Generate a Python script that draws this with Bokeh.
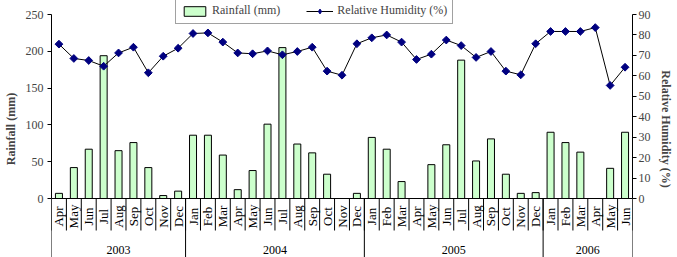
import numpy as np
from bokeh.plotting import figure
from bokeh.models import Range1d, LinearAxis, FixedTicker, Legend, LegendItem, ColumnDataSource
from bokeh.core.properties import value
from bokeh.embed import file_html
from bokeh.resources import INLINE

years = ["2003", "2004", "2005", "2006"]
months_2003 = ["Apr", "May", "Jun", "Jul", "Aug", "Sep", "Oct", "Nov", "Dec"]
months_2004 = ["Jan", "Feb", "Mar", "Apr", "May", "Jun", "Jul", "Aug", "Sep", "Oct", "Nov", "Dec"]
months_2005 = ["Jan", "Feb", "Mar", "Apr", "May", "Jun", "Jul", "Aug", "Sep", "Oct", "Nov", "Dec"]
months_2006 = ["Jan", "Feb", "Mar", "Apr", "May", "Jun"]

rainfall_mm = [7, 42, 67, 194, 65, 76, 42, 4, 10,
               86, 86, 59, 12, 38, 101, 205, 74, 62, 33, 0, 7,
               83, 67, 23, 0, 46, 73, 188, 51, 81, 33, 7, 8,
               90, 76, 63, 0, 41, 90]
humidity_pct = [75.5, 68.5, 67.5, 64.7, 71.2, 74.0, 61.5, 69.6, 73.5,
                80.7, 81.0, 76.5, 71.2, 70.8, 72.2, 70.3, 71.9, 74.0, 62.3, 60.3, 75.7,
                78.6, 80.0, 76.5, 68.0, 70.6, 77.5, 74.8, 69.0, 71.9, 62.3, 60.5, 75.7,
                81.7, 81.7, 81.7, 83.6, 55.3, 64.2]

rain_ticks = [0, 50, 100, 150, 200, 250]
rh_ticks = [0, 10, 20, 30, 40, 50, 60, 70, 80, 90]

groups = [months_2003, months_2004, months_2005, months_2006]
months = [m for g in groups for m in g]
n = len(months)
xc = [i + 0.5 for i in range(n)]
counts = [len(g) for g in groups]
year_bounds = [0] + [int(v) for v in np.cumsum(counts)]
year_centers = [(year_bounds[i] + year_bounds[i + 1]) / 2 for i in range(len(years))]

FONT = "Liberation Serif"

# layout: plot area 0..250 occupies 184 px, 14 px above it, 59 px below for category labels
H_TOP, H_PLOT, H_BOT = 14, 184, 59
u = rain_ticks[-1] / H_PLOT          # data units per pixel on left axis
ur = rh_ticks[-1] / H_PLOT           # data units per pixel on right axis

src = ColumnDataSource(dict(x=xc, rain=rainfall_mm, rh=humidity_pct))

p = figure(width=677, height=257, x_range=Range1d(0, n),
           y_range=Range1d(-H_BOT * u, rain_ticks[-1] + H_TOP * u),
           x_axis_type=None, output_backend="svg", toolbar_location=None,
           min_border_left=46, min_border_right=45, min_border_top=0, min_border_bottom=0)
p.outline_line_color = None
p.grid.visible = False
p.extra_y_ranges = {"rh": Range1d(-H_BOT * ur, rh_ticks[-1] + H_TOP * ur)}

bars = p.vbar(x="x", top="rain", width=0.47, source=src,
              fill_color="#ccffcc", line_color="black", line_width=1)
ln = p.line(x="x", y="rh", source=src, y_range_name="rh", line_color="black", line_width=1)
pts = p.scatter(x="x", y="rh", source=src, y_range_name="rh", marker="square",
                angle=np.pi / 4, size=5.5, fill_color="#000080", line_color="#000080")
# legend-only diamond marker (no data drawn)
leg_marker = p.scatter(x=[np.nan], y=[np.nan], y_range_name="rh", marker="diamond",
                       size=9, fill_color="#000080", line_color="#000080")

def style_axis(ax, label, ticks, standoff):
    ax.ticker = FixedTicker(ticks=ticks)
    ax.bounds = (ticks[0], ticks[-1])
    ax.axis_label = label
    ax.axis_label_text_font = FONT
    ax.axis_label_text_font_style = "bold"
    ax.axis_label_text_font_size = "12px"
    ax.axis_label_standoff = 5
    ax.major_label_text_font = FONT
    ax.major_label_text_font_size = "12px"
    ax.major_label_standoff = standoff
    ax.major_tick_out = 4
    ax.major_tick_in = 0
    ax.minor_tick_line_color = None
    ax.axis_line_color = "black"
    ax.major_tick_line_color = "black"

style_axis(p.yaxis[0], "Rainfall (mm)", rain_ticks, 4)
right = LinearAxis(y_range_name="rh")
style_axis(right, "Relative Humidity (%)", rh_ticks, 2)
p.add_layout(right, "right")

# category axis: month separators, year separators, labels
bounds = list(range(n + 1))
p.segment(x0=bounds, y0=[0] * len(bounds), x1=bounds, y1=[-32 * u] * len(bounds),
          line_color="black", line_width=1)
p.segment(x0=year_bounds, y0=[0] * len(year_bounds), x1=year_bounds,
          y1=[-H_BOT * u] * len(year_bounds), line_color="black", line_width=1)
p.segment(x0=[0], y0=[0], x1=[n], y1=[0], line_color="black", line_width=1)
p.text(x=xc, y=[-18 * u] * n, text=months, angle=np.pi / 2, text_align="center",
       text_baseline="middle", text_font=value(FONT), text_font_size="13px", text_color="black")
p.text(x=year_centers, y=[-51 * u] * len(years), text=years, text_align="center",
       text_baseline="middle", text_font=value(FONT), text_font_size="12px", text_color="black")

legend = Legend(items=[LegendItem(label="Rainfall (mm)", renderers=[bars]),
                       LegendItem(label="Relative Humidity (%)", renderers=[ln, leg_marker])],
                orientation="horizontal", location=(124, 233))
legend.label_text_font = FONT
legend.label_text_font_size = "12px"
legend.glyph_width = 27
legend.glyph_height = 12
legend.label_height = 14
legend.padding = 5
legend.spacing = 26
legend.label_standoff = 4
legend.margin = 0
legend.border_line_color = "#444444"
legend.background_fill_color = "white"
legend.background_fill_alpha = 1
p.add_layout(legend)

open("out.html", "w").write(file_html(p, INLINE))
